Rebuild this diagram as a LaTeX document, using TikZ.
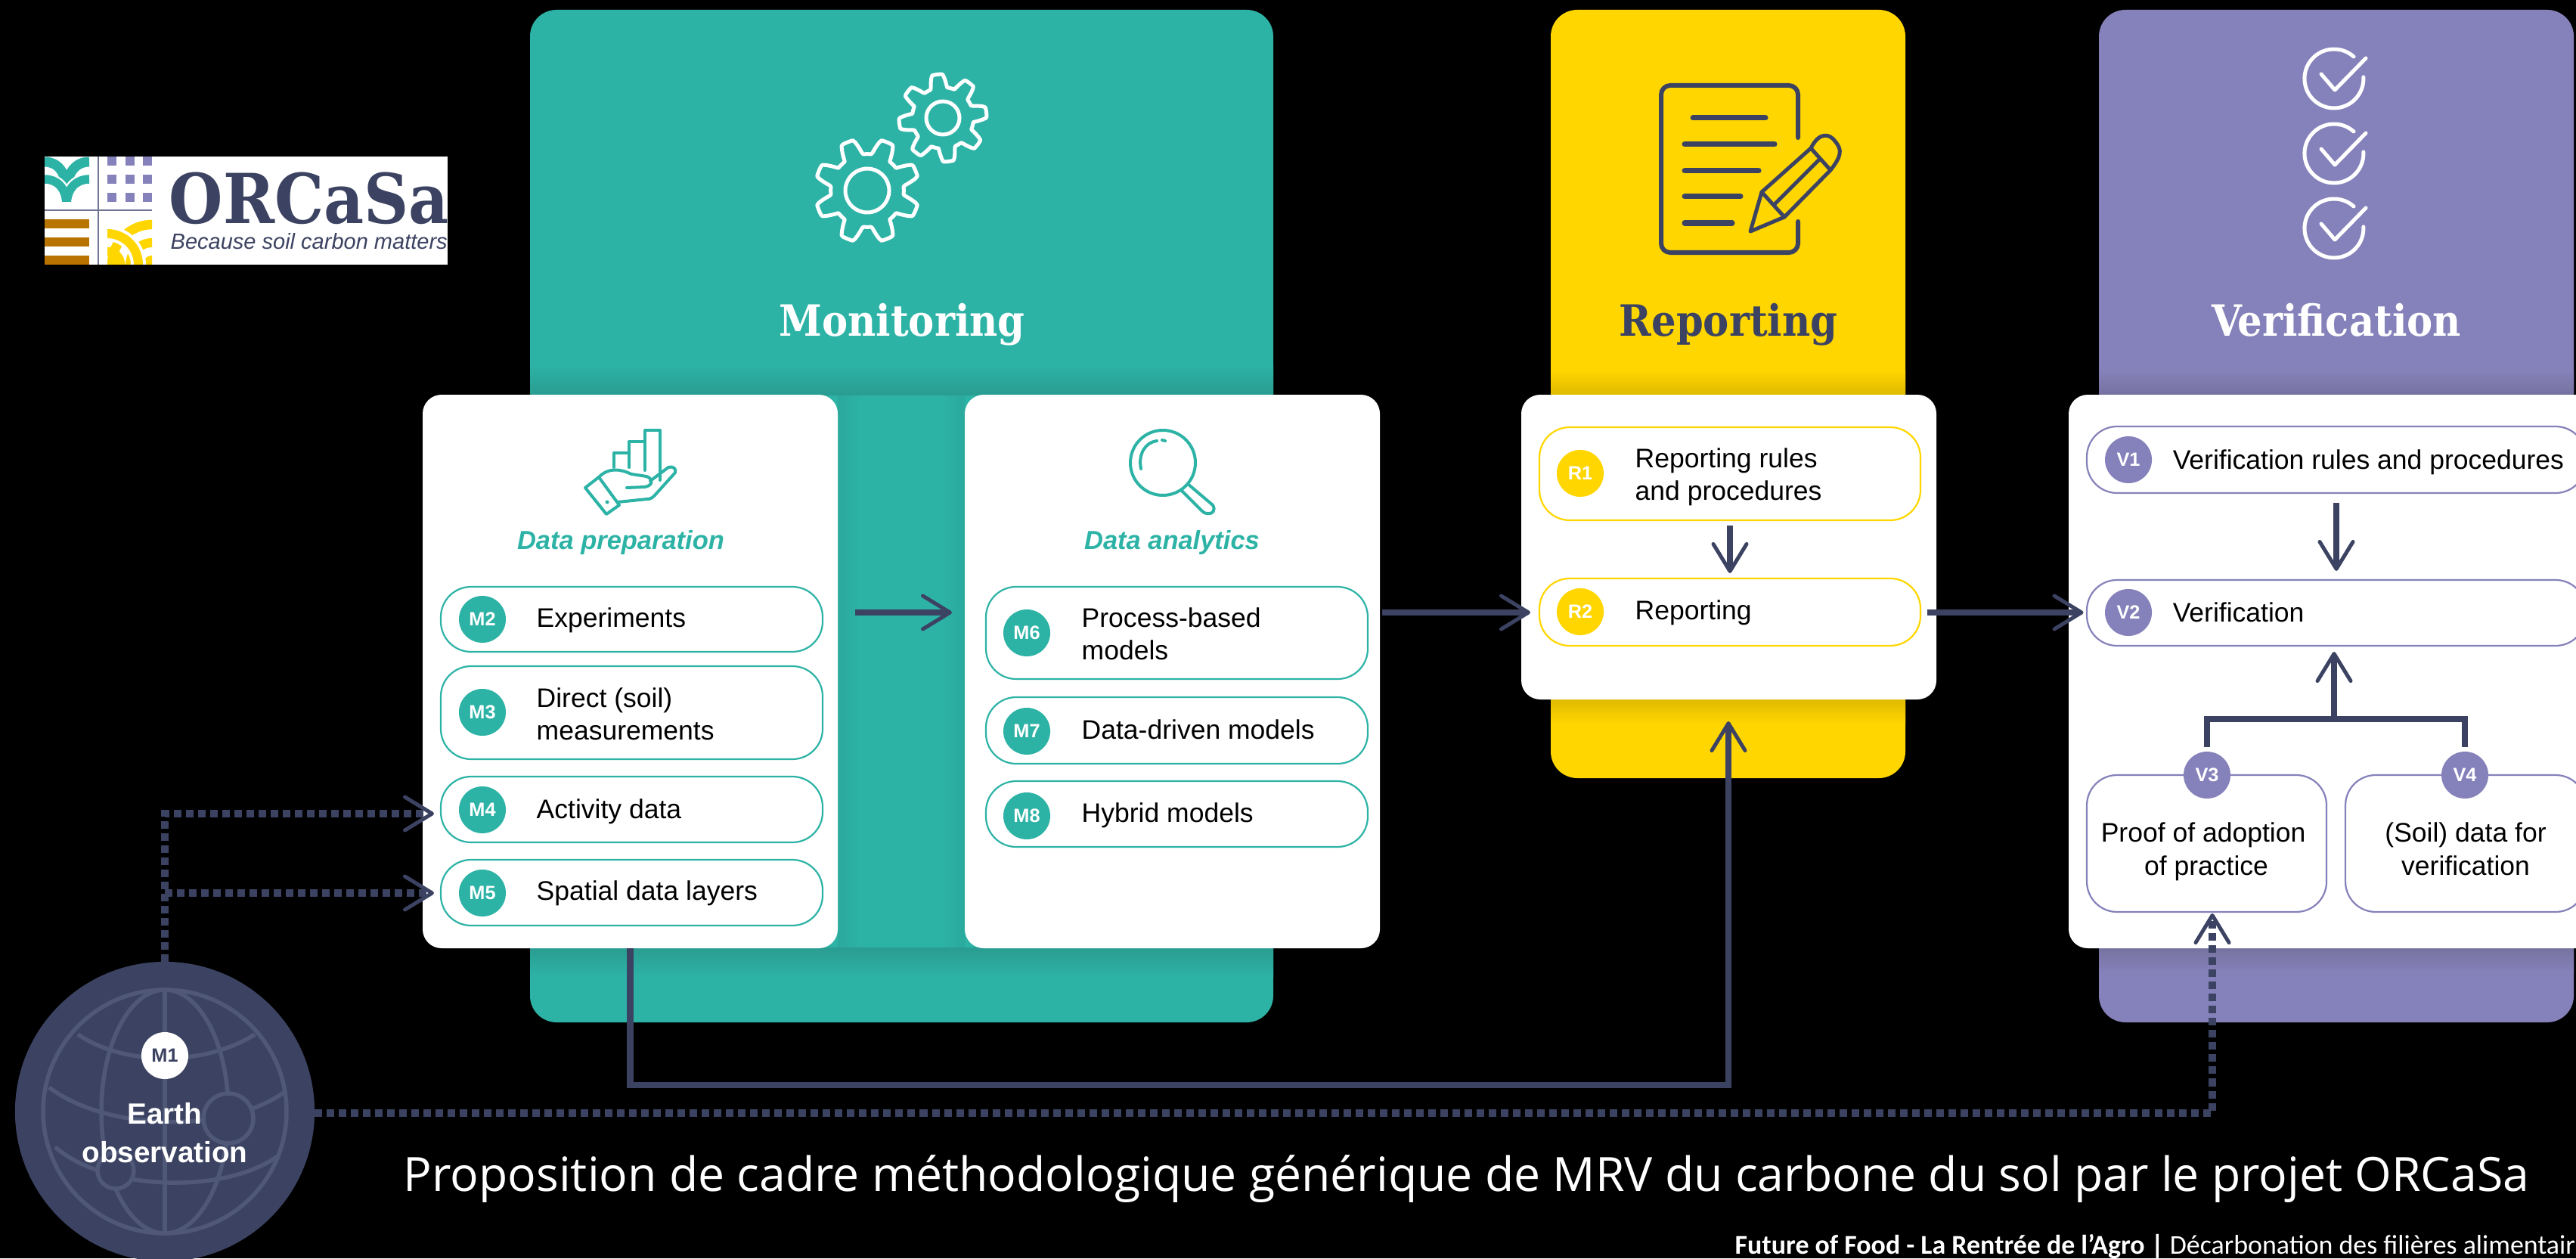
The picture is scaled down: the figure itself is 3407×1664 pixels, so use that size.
\documentclass[tikz,border=0pt]{standalone}
\usepackage{fontspec}
\setmainfont{Liberation Sans}
\newfontfamily\slab{DejaVu Serif Condensed}
\newfontfamily\titlefont{Open Sans}
\newfontfamily\footfont{Carlito}
\usetikzlibrary{arrows.meta,calc}
\definecolor{navy}{HTML}{3C4362}
\definecolor{globe}{HTML}{505877}
\definecolor{tealc}{HTML}{2DB3A6}
\definecolor{teald}{HTML}{2A9C91}
\definecolor{tealm}{HTML}{2BA99D}
\definecolor{yell}{HTML}{FFD600}
\definecolor{yelld}{HTML}{DFBA00}
\definecolor{purp}{HTML}{8581BA}
\definecolor{purpd}{HTML}{76729F}
\definecolor{orng}{HTML}{B87300}
\definecolor{gridc}{HTML}{6E7491}
\tikzset{
  panel/.style={rounded corners=0.35cm,inner sep=0pt,outer sep=0pt},
  card/.style={fill=white,rounded corners=0.25cm,inner sep=0pt,outer sep=0pt},
  pill/.style={draw=#1,fill=white,line width=0.022cm,rounded corners=0.40cm,inner sep=0pt,outer sep=0pt},
  badge/.style={circle,fill=#1,text=white,minimum size=0.62cm,inner sep=0pt,outer sep=0pt,font=\fontsize{7.2}{8}\selectfont\bfseries},
  body/.style={text=black,anchor=base west,inner sep=0pt,font=\fontsize{10.1}{12}\selectfont},
  bodyc/.style={text=black,anchor=base,inner sep=0pt,font=\fontsize{10.1}{12}\selectfont},
  sub/.style={text=tealc,anchor=base,inner sep=0pt,font=\fontsize{9.8}{12}\selectfont\bfseries\itshape},
  head/.style={anchor=base,inner sep=0pt,font=\fontsize{16.2}{20}\selectfont\slab\bfseries},
  arr/.style={draw=navy,line width=0.085cm,-{Straight Barb[length=0.36cm,width=0.44cm,line width=0.05cm,round]}},
  solid line/.style={draw=navy,line width=0.085cm},
  dots/.style={draw=navy,line width=0.095cm,dash pattern=on 0.10cm off 0.06cm},
  icon/.style={line width=0.05cm,line cap=round,line join=round},
  hand/.style={draw=tealc,line width=0.04cm,line cap=round,line join=round},
}
\newcommand{\boxnode}[7]{\node[#6,minimum width={(#4-#2)*0.01cm},minimum height={(#5-#3)*0.01cm}] (#1) at ({(#2+#4)/2},{(#3+#5)/2}) {#7};}
\newcommand{\gearicon}[4]{\draw[icon,white] plot[domain=0:360,samples=181] ({#1+#3*(.85+.15*max(-1,min(1,1.8*cos(8*\x+#4))))*cos(\x)},{#2+#3*(.85+.15*max(-1,min(1,1.8*cos(8*\x+#4))))*sin(\x)}) -- cycle;}
\newcommand{\checkicon}[2]{\draw[icon,white] (#1,#2) ++(26,-29) arc[start angle=-48,end angle=-363,radius=39];
  \draw[icon,white] (#1,#2) ++(-17,-6) -- ++(18,21) -- ++(41,-42);}
\begin{document}
\begin{tikzpicture}[x=0.01cm,y=-0.01cm]
\useasboundingbox (0,0) rectangle (3407,1664);
\clip (0,0) rectangle (3407,1664);
\fill[black] (0,0) rectangle (3407,1664);

% panels
\boxnode{pmon}{701}{13}{1684}{1352}{panel,fill=tealc}{}
\boxnode{prep}{2051}{13}{2520}{1029}{panel,fill=yell}{}
\boxnode{pver}{2776}{13}{3404}{1352}{panel,fill=purp}{}
% soft shadows of the cards on the panels
\shade[left color=tealm,right color=tealc] (1108,522) rectangle (1140,1253);
\shade[left color=tealc,right color=tealm] (1244,522) rectangle (1276,1253);
\shade[top color=tealc,bottom color=teald] (701,482) rectangle (1684,522);
\shade[top color=teald,bottom color=tealc] (701,1253) rectangle (1684,1292);
\shade[top color=yell,bottom color=yelld] (2051,490) rectangle (2520,522);
\shade[top color=yelld,bottom color=yell] (2051,925) rectangle (2520,957);
\shade[top color=purp,bottom color=purpd] (2776,490) rectangle (3404,522);
\shade[top color=purpd,bottom color=purp] (2776,1253) rectangle (3404,1285);

% headings
\node[head,text=white] (hmon) at (1193,445) {Monitoring};
\node[head,text=navy] (hrep) at (2286,445) {Reporting};
\node[head,text=white] (hver) at (3090,445) {Verification};

% gears
\gearicon{1147}{252}{69}{180}
\draw[icon,white] (1147,252) circle[radius=29];
\gearicon{1247}{156}{58}{60}
\draw[icon,white] (1247,156) circle[radius=22];

% report icon
\draw[icon,navy,line width=0.06cm] (2378,182) -- (2378,125) arc[start angle=0,end angle=-90,radius=12] -- (2209,113) arc[start angle=-90,end angle=-180,radius=12] -- (2197,322) arc[start angle=180,end angle=90,radius=12] -- (2366,334) arc[start angle=90,end angle=0,radius=12] -- (2378,293);
\foreach \a/\b/\c in {2239/2335/156,2228/2347/191,2228/2326/226,2228/2302/260,2228/2291/295}
  \draw[icon,navy,line width=0.07cm] (\a,\c) -- (\b,\c);
\draw[icon,navy] (2330,254) -- (2315,306) -- (2360,287) -- (2421,225) .. controls (2436,206) and (2436,198) .. (2428,188) .. controls (2420,176) and (2406,174) .. (2395,196) -- cycle;
\draw[icon,navy] (2395,196) -- (2421,225) (2406,211) -- (2347,270) (2330,254) -- (2360,287);

% checks
\checkicon{3087}{104}
\checkicon{3087}{203}
\checkicon{3087}{302}

% cards
\boxnode{cprep}{559}{522}{1108}{1254}{card}{}
\boxnode{cana}{1276}{522}{1825}{1254}{card}{}
\boxnode{crep}{2012}{522}{2561}{925}{card}{}
\boxnode{cver}{2736}{522}{3450}{1254}{card}{}

% hand icon
\draw[hand] (812,618) -- (812,599) -- (832,599) -- (832,618) (832,599) -- (832,584) -- (853,584) -- (853,622) (853,584) -- (853,569) -- (873,569) -- (873,635);
\draw[hand] (774,645) -- (792,631) -- (819,668) -- (802,680) -- cycle;
\draw[hand] (792,631) .. controls (805,618) and (820,620) .. (835,627) -- (855,630) .. controls (864,633) and (864,642) .. (853,644) -- (829,645);
\draw[hand] (860,636) -- (884,618) .. controls (890,616) and (895,620) .. (893,625) -- (866,655) .. controls (862,659) and (860,660) .. (856,660) -- (817,664);
\fill[tealc] (803,664) circle[radius=2.5];

% magnifier icon
\draw[hand] (1538,612) circle[radius=43];
\draw[hand] (1571,640) -- (1604,668) .. controls (1608,675) and (1604,680) .. (1597,679) .. controls (1593,679) and (1591,677) .. (1589,675) -- (1562,648);
\draw[hand] (1509,620) .. controls (1505,600) and (1515,585) .. (1530,583);
\draw[hand] (1537,582) -- (1541,583);

\node[sub] (tprep) at (821,726) {Data preparation};
\node[sub] (tana) at (1550,726) {Data analytics};

% monitoring pills
\boxnode{m2}{583}{776}{1088}{862}{pill=tealc}{}
\boxnode{m3}{583}{881}{1088}{1004}{pill=tealc}{}
\boxnode{m4}{583}{1027}{1088}{1114}{pill=tealc}{}
\boxnode{m5}{583}{1137}{1088}{1224}{pill=tealc}{}
\boxnode{m6}{1304}{776}{1809}{898}{pill=tealc}{}
\boxnode{m7}{1304}{922}{1809}{1010}{pill=tealc}{}
\boxnode{m8}{1304}{1033}{1809}{1120}{pill=tealc}{}
\node[badge=tealc] (bm2) at (638,819) {M2};
\node[badge=tealc] (bm3) at (638,942) {M3};
\node[badge=tealc] (bm4) at (638,1071) {M4};
\node[badge=tealc] (bm5) at (638,1181) {M5};
\node[badge=tealc] (bm6) at (1358,837) {M6};
\node[badge=tealc] (bm7) at (1358,967) {M7};
\node[badge=tealc] (bm8) at (1358,1079) {M8};
\node[body] (tm2) at (709,829) {Experiments};
\node[body] (tm3a) at (709,935) {Direct (soil)};
\node[body] (tm3b) at (709,978) {measurements};
\node[body] (tm4) at (709,1082) {Activity data};
\node[body] (tm5) at (709,1190) {Spatial data layers};
\node[body] (tm6a) at (1430,829) {Process-based};
\node[body] (tm6b) at (1430,872) {models};
\node[body] (tm7) at (1430,977) {Data-driven models};
\node[body] (tm8) at (1430,1087) {Hybrid models};

% reporting pills
\boxnode{r1}{2036}{565}{2540}{688}{pill=yell}{}
\boxnode{r2}{2036}{765}{2540}{854}{pill=yell}{}
\node[badge=yell] (br1) at (2090,626) {R1};
\node[badge=yell] (br2) at (2090,809) {R2};
\node[body] (tr1a) at (2162,618) {Reporting rules};
\node[body] (tr1b) at (2162,661) {and procedures};
\node[body] (tr2) at (2162,819) {Reporting};

% verification pills
\boxnode{v1}{2760}{564}{3420}{652}{pill=purp}{}
\boxnode{v2}{2760}{767}{3420}{854}{pill=purp}{}
\boxnode{v3}{2760}{1025}{3077}{1206}{pill=purp}{}
\boxnode{v4}{3102}{1025}{3420}{1206}{pill=purp}{}
\node[badge=purp] (bv1) at (2815,608) {V1};
\node[badge=purp] (bv2) at (2815,810) {V2};
\node[badge=purp] (bv3) at (2919,1025) {V3};
\node[badge=purp] (bv4) at (3260,1025) {V4};
\node[body] (tv1) at (2873,620) {Verification rules and procedures};
\node[body] (tv2) at (2873,822) {Verification};
\node[bodyc] (tv3a) at (2914,1113) {Proof of adoption};
\node[bodyc] (tv3b) at (2918,1157) {of practice};
\node[bodyc] (tv4a) at (3261,1113) {(Soil) data for};
\node[bodyc] (tv4b) at (3261,1157) {verification};

% connectors in the flow
\coordinate (flowy) at (0,810);
\draw[arr,shorten <=0.23cm,shorten >=0.17cm] (cprep.east |- flowy) -- (cana.west |- flowy);
\draw[arr,shorten <=0.03cm,shorten >=0.12cm] (cana.east |- flowy) -- (r2.west |- flowy);
\draw[arr,shorten <=0.09cm,shorten >=0.045cm] (r2.east |- flowy) -- (v2.west |- flowy);
\draw[arr,shorten <=0.065cm,shorten >=0.07cm] (r1.south) -- (r2.north);
\draw[arr,shorten <=0.125cm,shorten >=0.12cm] (v1.south) -- (v2.north);
\coordinate (tree) at (3087,951);
\draw[solid line,shorten <=0.06cm,shorten >=0.06cm] (bv3.north) |- (tree) -| (bv4.north);
\draw[arr,shorten >=0.08cm] (tree) -- (tree |- v2.south);
\coordinate (lowbend) at (2286,1435);
\coordinate (lowtip) at (2286,954);
\draw[arr] (cprep.south) |- (lowbend) -- (lowtip);

% earth observation
\coordinate (eotip4) at (574,1076);
\coordinate (eotip5) at (574,1181);
\coordinate (eobend) at (2926,1472);
\coordinate (eotipv) at (2926,1208);
\draw[dots,-{Straight Barb[length=0.36cm,width=0.44cm,line width=0.05cm,round]}] (218,1272) -- (218,1076) -- (eotip4);
\draw[dots,-{Straight Barb[length=0.36cm,width=0.44cm,line width=0.05cm,round]}] (218,1181) -- (eotip5);
\draw[dots,-{Straight Barb[length=0.36cm,width=0.44cm,line width=0.05cm,round]}] (416,1472) -- (eobend) -- (eotipv);
\node[circle,fill=navy,minimum size=3.96cm,inner sep=0pt,outer sep=0pt] (eo) at (218,1470) {};
\begin{scope}[draw=globe,line width=0.055cm]
  \draw (218,1470) circle[radius=161];
  \draw (218,1309) -- (218,1631);
  \draw (218,1470) ellipse[x radius=84,y radius=161];
  \draw (103,1368) .. controls (165,1410) and (271,1410) .. (337,1368);
  \draw (65,1438) .. controls (140,1495) and (296,1500) .. (375,1445);
  \draw (73,1517) .. controls (140,1575) and (296,1580) .. (367,1529);
  \draw[fill=navy] (302,1479) circle[radius=33];
  \draw[fill=navy] (153,1548) circle[radius=24];
\end{scope}
\node[badge=white,text=navy] (bm1) at (218,1396) {M1};
\node[anchor=base,inner sep=0pt,text=white,font=\fontsize{11}{13}\selectfont\bfseries] (teo1) at (218,1486) {Earth};
\node[anchor=base,inner sep=0pt,text=white,font=\fontsize{11}{13}\selectfont\bfseries] (teo2) at (218,1537) {observation};

% title and footer
\node[anchor=base west,inner sep=0pt,text=white,font=\fontsize{17.77}{20}\selectfont\titlefont] (title) at (533,1575) {Proposition de cadre méthodologique générique de MRV du carbone du sol par le projet ORCaSa};
\node[anchor=base west,inner sep=0pt,text=white,font=\fontsize{10.2}{12}\selectfont\footfont] (foot) at (2294,1658) {\textbf{Future of Food - La Rentrée de l’Agro |} Décarbonation des filières alimentair};

% logo
\node[fill=white,minimum width=5.33cm,minimum height=1.43cm,inner sep=0pt,outer sep=0pt] (logo) at (325.5,278.5) {};
\begin{scope}
  \clip (59,207) rectangle (118,267);
  \draw[tealc,line width=0.13cm] (59,214) .. controls (75,214) and (88,226) .. (88,255);
  \draw[tealc,line width=0.13cm] (118,214) .. controls (102,214) and (88,226) .. (88,255);
  \draw[white,line width=0.16cm] (59,237) .. controls (75,237) and (88,248) .. (88,272);
  \draw[white,line width=0.16cm] (118,237) .. controls (102,237) and (88,248) .. (88,272);
  \draw[tealc,line width=0.115cm] (59,237) .. controls (75,237) and (88,248) .. (88,272);
  \draw[tealc,line width=0.115cm] (118,237) .. controls (102,237) and (88,248) .. (88,272);
\end{scope}
\foreach \xa in {142,166,189} \foreach \ya in {207,231,255}
  \fill[purp] (\xa,\ya) rectangle ++(12,12);
\foreach \ya in {290,314,338}
  \fill[orng] (59,\ya) rectangle (118,\ya+12);
\draw[gridc,line width=0.02cm] (130,207) -- (130,350) (59,278) -- (201,278);
\begin{scope}
  \clip (142,291) rectangle (201,350);
  \draw[yell,line width=0.125cm] (201,350) circle[radius=53];
  \draw[yell,line width=0.12cm] (201,350) circle[radius=29];
  \draw[yell,line width=0.12cm] (201,350) circle[radius=6];
  \draw[white,line width=0.2cm] (142,350) circle[radius=41];
  \draw[yell,line width=0.12cm] (142,350) circle[radius=41];
  \draw[yell,line width=0.115cm] (142,350) circle[radius=17.5];
\end{scope}
\node[anchor=base west,inner sep=0pt,text=navy,font=\fontsize{25.9}{30}\selectfont\slab\bfseries] (lname) at (223,296) {ORCaSa};
\node[anchor=base west,inner sep=0pt,text=navy,font=\fontsize{8.25}{9}\selectfont\itshape] (ltag) at (225,330) {Because soil carbon matters};
\end{tikzpicture}
\end{document}
